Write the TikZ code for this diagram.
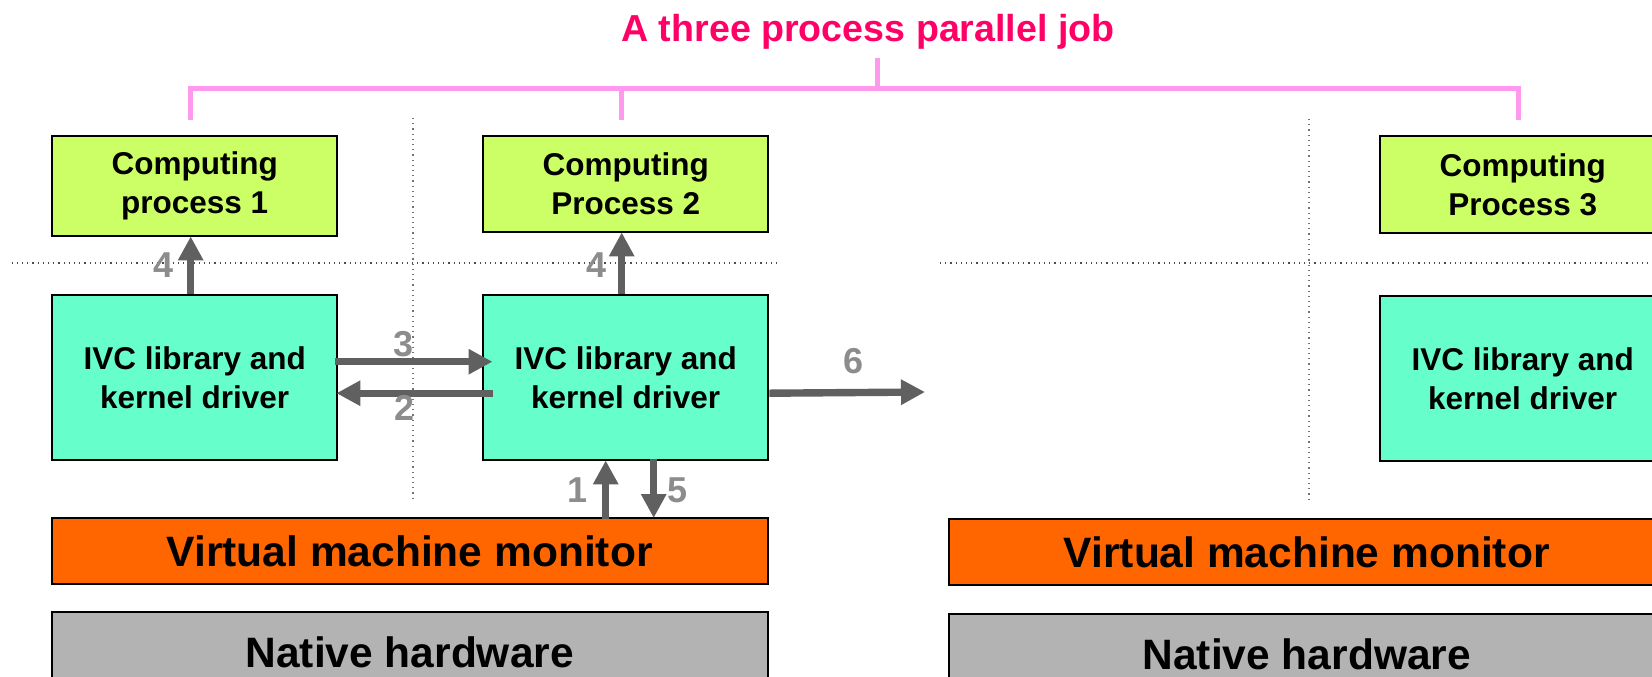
\documentclass[tikz,border=0pt]{standalone}
\usepackage{fontspec}
\setmainfont{Liberation Sans}
\usetikzlibrary{arrows.meta,calc}
\definecolor{procgreen}{HTML}{CCFF66}
\definecolor{ivcaqua}{HTML}{66FFCC}
\definecolor{vmmorange}{HTML}{FF6600}
\definecolor{hwgray}{HTML}{B3B3B3}
\definecolor{titlepink}{HTML}{FF0066}
\definecolor{bracketpink}{HTML}{FF99EE}
\definecolor{arrowgray}{HTML}{606060}
\definecolor{labelgray}{HTML}{8C8C8C}
\begin{document}
\begin{tikzpicture}[x=0.5pt,y=-0.5pt,
  box/.style={draw=black, line width=1.2pt, inner sep=0pt, anchor=north west,
    align=center, minimum width=142.5pt,
    font=\bfseries\fontsize{15.75}{19.5}\selectfont},
  procbox/.style={box, fill=procgreen},
  ivcbox/.style={box, fill=ivcaqua, minimum height=82.5pt},
  layerbox/.style={box, line width=1pt, minimum width=357.75pt,
    font=\bfseries\fontsize{21.25}{25}\selectfont},
  flow/.style={draw=arrowgray, line width=3.7pt,
    -{Triangle[length=12pt,width=12pt]}},
  steplabel/.style={text=labelgray, inner sep=0pt,
    font=\bfseries\fontsize{18}{20}\selectfont},
  divider/.style={draw=black!70, line width=0.6pt, dotted},
  jobbracket/.style={draw=bracketpink, line width=2.5pt}
]
\useasboundingbox (0,0) rectangle (1652,676);
\clip (0,0) rectangle (1652,676);

% separators between the software layers and between machines
\draw[divider] (11.5,263) -- (778,263);
\draw[divider] (940,263) -- (1652,263);
\draw[divider, draw=black!55] (413,118) -- (413,500);
\draw[divider, draw=black!55] (1309,119) -- (1309,500);

% computing processes
\node[procbox, minimum height=50pt] (cp1) at (51,135) {Computing\\process 1};
\node[procbox, minimum height=48pt] (cp2) at (482,135) {Computing\\Process 2};
\node[procbox, minimum height=48.5pt] (cp3) at (1379,135) {Computing\\Process 3};

% IVC library boxes
\node[ivcbox] (ivc1) at (51,294) {IVC library and\\kernel driver};
\node[ivcbox] (ivc2) at (482,294) {IVC library and\\kernel driver};
\node[ivcbox] (ivc3) at (1379,295) {IVC library and\\kernel driver};

% virtual machine monitors and hardware
\node[layerbox, fill=vmmorange, minimum height=33pt] (vmm1) at (51,517) {Virtual machine monitor};
\node[layerbox, fill=vmmorange, minimum height=33pt] (vmm2) at (948,518) {Virtual machine monitor};
\node[layerbox, fill=hwgray, minimum height=40pt] (hw1) at (51,611) {Native hardware};
\node[layerbox, fill=hwgray, minimum height=40pt] (hw2) at (948,613) {Native hardware};

% title and the bracket grouping the three processes
\node[text=titlepink, anchor=base, inner sep=0pt, font=\bfseries\fontsize{18.8}{22}\selectfont] (title) at (868,41) {A three process parallel job};
\coordinate (stem) at (877,58);
\coordinate (jb1) at ($(cp1.north)+(-4,-15)$);
\coordinate (jb2) at ($(cp2.north)+(-4,-15)$);
\coordinate (jb3) at ($(cp3.north)+(-4.5,-15)$);
\draw[jobbracket] (stem) -- (stem |- 0,88);
\draw[jobbracket] (jb1) -- (jb1 |- 0,88) -- (jb3 |- 0,88) -- (jb3);
\draw[jobbracket] (jb2) -- (jb2 |- 0,88);

% message flow
\draw[flow] ($(ivc1.north)+(-4,0)$) -- ($(cp1.south)+(-4,-1)$);
\draw[flow] ($(ivc2.north)+(-4,0)$) -- ($(cp2.south)+(-4,-1)$);
\draw[flow] ($(ivc1.east)+(-3,-16)$) -- ($(ivc2.west)+(10.5,-16)$);
\draw[flow] ($(ivc2.west)+(10.5,15.5)$) -- ($(ivc1.east)+(-2,15.5)$);
\coordinate (remote) at (925,392);
\draw[flow] ($(ivc2.east)+(0,15.5)$) -- (remote);
\draw[flow] ($(ivc2.south |- vmm1.north)+(-20,2)$) -- ($(ivc2.south)+(-20,-1)$);
\draw[flow] ($(ivc2.south)+(28,-2)$) -- ($(ivc2.south |- vmm1.north)+(28,1)$);

% step numbers
\node[steplabel] (s4a) at (164,265) {4};
\node[steplabel] (s4b) at (596,265) {4};
\node[steplabel] (s3) at (404,344.5) {3};
\node[steplabel] (s2) at (405,408) {2};
\node[steplabel] (s6) at (853.6,361) {6};
\node[steplabel] (s1) at (578,490) {1};
\node[steplabel] (s5) at (677,490) {5};
\end{tikzpicture}
\end{document}
